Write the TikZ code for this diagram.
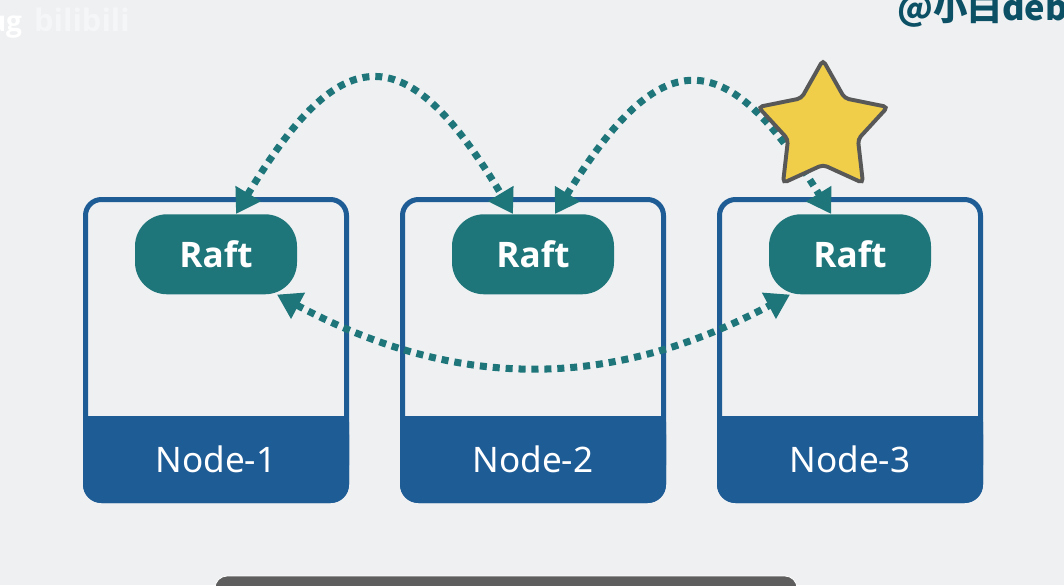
\documentclass[tikz,border=0pt]{standalone}
\usepackage{fontspec}
\setmainfont{Noto Sans}
\newfontfamily\raftfont{Open Sans}
\newfontfamily\cjkfont{Noto Sans CJK SC}
\usepackage{xcolor}
\usepackage{tikz}
\usetikzlibrary{positioning, arrows.meta, shapes.geometric}

\definecolor{bggray}{HTML}{EEF0F2}
\definecolor{boxblue}{HTML}{1E5C96}
\definecolor{raftteal}{HTML}{1F767A}
\definecolor{starfill}{HTML}{F0CE4A}
\definecolor{stardraw}{HTML}{585858}
\definecolor{tagteal}{HTML}{0B5064}
\definecolor{bargray}{HTML}{5E5E5E}

\begin{document}
\begin{tikzpicture}[
    node distance=1.275cm,
    box/.style={
        rectangle,
        rounded corners=0.4cm,
        draw=boxblue,
        line width=0.125cm,
        minimum width=6.525cm,
        minimum height=7.525cm
    },
    band/.style={
        rectangle,
        rounded corners=0.4625cm,
        fill=boxblue,
        inner sep=0pt,
        outer sep=0pt,
        minimum width=6.65cm,
        minimum height=2.175cm
    },
    bandtext/.style={
        text=white,
        font=\fontsize{25}{30}\selectfont
    },
    raft/.style={
        rectangle,
        rounded corners=0.8cm,
        fill=raftteal,
        text=white,
        font=\raftfont\fontsize{25}{30}\selectfont\bfseries,
        minimum width=4.05cm,
        minimum height=2cm
    },
    link/.style={
        draw=raftteal,
        line width=5pt,
        dash pattern=on 5pt off 4.2pt,
        {Triangle[length=17pt,width=20pt]}-{Triangle[length=17pt,width=20pt]}
    },
    leaderstar/.style={
        star,
        star points=5,
        star point ratio=1.85,
        minimum size=3.4cm,
        inner sep=0pt,
        fill=starfill,
        draw=stardraw,
        line width=2.8pt,
        rounded corners=3pt
    }
]

% Canvas
\useasboundingbox (0,0) rectangle (26.6,-14.625);
\clip (0,0) rectangle (26.6,-14.625);
\fill[bggray] (0,0) rectangle (26.6,-14.625);

% Caption bar at the bottom
\fill[bargray, draw=white, line width=0.6pt, rounded corners=0.3cm] (5.375,-14.4) rectangle (19.925,-15.5);

% Server boxes
\node[box] (box1) at (5.4,-8.75) {};
\node[box, right=of box1] (box2) {};
\node[box, right=of box2] (box3) {};

% Bottom bands
\node[band, above=0pt of box1.south] (band1) {};
\node[band, above=0pt of box2.south] (band2) {};
\node[band, above=0pt of box3.south] (band3) {};

\fill[boxblue, rounded corners=0.15cm] (band1.north west) rectangle ([yshift=0.8cm]band1.south east);
\fill[boxblue, rounded corners=0.15cm] (band2.north west) rectangle ([yshift=0.8cm]band2.south east);
\fill[boxblue, rounded corners=0.15cm] (band3.north west) rectangle ([yshift=0.8cm]band3.south east);

\node[bandtext] (name1) at (band1) {Node-1};
\node[bandtext] (name2) at (band2) {Node-2};
\node[bandtext] (name3) at (band3) {Node-3};

% Raft modules
\node[raft, below=0.425cm of box1.north] (raft1) {Raft};
\node[raft, below=0.425cm of box2.north] (raft2) {Raft};
\node[raft, below=0.425cm of box3.north] (raft3) {Raft};

% Links
\draw[link] ([xshift=0.5cm]raft1.north) .. controls +(2.65,4.425) and +(-2.65,4.425) .. ([xshift=-0.5cm]raft2.north);
\draw[link] ([xshift=0.55cm]raft2.north) .. controls +(2.65,4.3) and +(-2.65,4.3) .. ([xshift=-0.47cm]raft3.north);
\draw[link] ([xshift=1.525cm]raft1.south) .. controls +(4.5,-2.4) and +(-4.5,-2.4) .. ([xshift=-1.5cm]raft3.south);

% Leader mark
\node[leaderstar] (leader) at ([shift={(-0.675cm,2.15cm)}]raft3.north) {};

% Handles
\node[anchor=base west, inner sep=0pt, text=tagteal, font=\cjkfont\fontsize{24.5}{29}\selectfont\bfseries] (handle) at (22.425,-0.52) {@小白debug};
\node[anchor=base east, inner sep=0pt, text=white, font=\raftfont\fontsize{20}{24}\selectfont\bfseries] (oldhandle) at (0.56,-0.775) {debug};
\node[text=white, opacity=0.4, font=\raftfont\fontsize{22}{26}\selectfont\bfseries] (mark) at (2.05,-0.5) {bilibili};

\end{tikzpicture}
\end{document}
